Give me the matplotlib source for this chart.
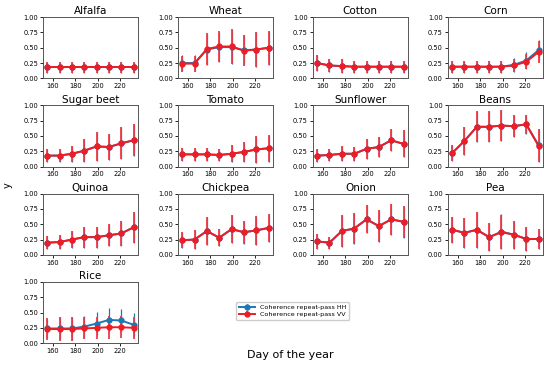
import matplotlib
matplotlib.use('Agg')
import matplotlib.pyplot as plt

# day of the year for each acquisition
days = [155, 166, 177, 188, 199, 210, 221, 232]

crops = ["Alfalfa", "Wheat", "Cotton", "Corn", "Sugar beet", "Tomato", "Sunflower",
         "Beans", "Quinoa", "Chickpea", "Onion", "Pea", "Rice"]

# mean coherence, VV
vv_mean = {
    "Alfalfa":    [0.18, 0.18, 0.18, 0.18, 0.18, 0.18, 0.18, 0.18],
    "Wheat":      [0.24, 0.24, 0.48, 0.52, 0.52, 0.45, 0.47, 0.50],
    "Cotton":     [0.25, 0.21, 0.20, 0.19, 0.19, 0.19, 0.19, 0.19],
    "Corn":       [0.19, 0.19, 0.19, 0.19, 0.19, 0.21, 0.27, 0.43],
    "Sugar beet": [0.18, 0.18, 0.21, 0.26, 0.33, 0.32, 0.38, 0.43],
    "Tomato":     [0.20, 0.20, 0.20, 0.19, 0.21, 0.24, 0.28, 0.30],
    "Sunflower":  [0.18, 0.19, 0.21, 0.21, 0.29, 0.32, 0.43, 0.37],
    "Beans":      [0.22, 0.42, 0.65, 0.65, 0.67, 0.66, 0.69, 0.34],
    "Quinoa":     [0.20, 0.21, 0.25, 0.29, 0.29, 0.32, 0.35, 0.45],
    "Chickpea":   [0.24, 0.25, 0.39, 0.28, 0.42, 0.37, 0.40, 0.44],
    "Onion":      [0.22, 0.20, 0.39, 0.43, 0.58, 0.47, 0.58, 0.54],
    "Pea":        [0.41, 0.36, 0.41, 0.29, 0.37, 0.33, 0.26, 0.26],
    "Rice":       [0.23, 0.23, 0.23, 0.24, 0.25, 0.26, 0.26, 0.25],
}
# standard deviation, VV
vv_std = {
    "Alfalfa":    [0.09, 0.09, 0.09, 0.09, 0.09, 0.09, 0.09, 0.09],
    "Wheat":      [0.13, 0.13, 0.26, 0.25, 0.28, 0.25, 0.28, 0.28],
    "Cotton":     [0.13, 0.11, 0.11, 0.10, 0.10, 0.10, 0.10, 0.10],
    "Corn":       [0.10, 0.10, 0.10, 0.10, 0.10, 0.10, 0.12, 0.18],
    "Sugar beet": [0.10, 0.10, 0.13, 0.19, 0.23, 0.21, 0.26, 0.26],
    "Tomato":     [0.10, 0.10, 0.10, 0.10, 0.14, 0.17, 0.22, 0.22],
    "Sunflower":  [0.10, 0.10, 0.12, 0.11, 0.16, 0.16, 0.18, 0.22],
    "Beans":      [0.13, 0.23, 0.25, 0.25, 0.25, 0.18, 0.16, 0.27],
    "Quinoa":     [0.11, 0.12, 0.14, 0.17, 0.17, 0.18, 0.21, 0.25],
    "Chickpea":   [0.13, 0.15, 0.23, 0.14, 0.23, 0.19, 0.24, 0.23],
    "Onion":      [0.12, 0.10, 0.26, 0.26, 0.23, 0.26, 0.25, 0.26],
    "Pea":        [0.21, 0.24, 0.29, 0.23, 0.28, 0.23, 0.20, 0.17],
    "Rice":       [0.18, 0.19, 0.20, 0.18, 0.18, 0.19, 0.18, 0.18],
}
# mean coherence, HH
hh_mean = {
    "Alfalfa":    [0.18, 0.18, 0.18, 0.18, 0.18, 0.18, 0.18, 0.18],
    "Wheat":      [0.25, 0.25, 0.47, 0.51, 0.51, 0.46, 0.47, 0.50],
    "Cotton":     [0.25, 0.21, 0.20, 0.19, 0.19, 0.19, 0.19, 0.19],
    "Corn":       [0.19, 0.19, 0.19, 0.19, 0.19, 0.22, 0.29, 0.46],
    "Sugar beet": [0.18, 0.18, 0.21, 0.26, 0.33, 0.32, 0.38, 0.43],
    "Tomato":     [0.20, 0.20, 0.20, 0.19, 0.21, 0.24, 0.28, 0.30],
    "Sunflower":  [0.18, 0.19, 0.21, 0.21, 0.29, 0.32, 0.43, 0.37],
    "Beans":      [0.22, 0.42, 0.65, 0.65, 0.67, 0.66, 0.69, 0.35],
    "Quinoa":     [0.20, 0.21, 0.25, 0.29, 0.29, 0.32, 0.35, 0.45],
    "Chickpea":   [0.24, 0.25, 0.39, 0.28, 0.42, 0.37, 0.40, 0.44],
    "Onion":      [0.22, 0.20, 0.39, 0.43, 0.58, 0.47, 0.58, 0.54],
    "Pea":        [0.41, 0.36, 0.41, 0.29, 0.38, 0.33, 0.26, 0.26],
    "Rice":       [0.24, 0.24, 0.24, 0.27, 0.32, 0.38, 0.37, 0.30],
}
hh_std = {
    "Alfalfa":    [0.09, 0.09, 0.09, 0.09, 0.09, 0.09, 0.09, 0.09],
    "Wheat":      [0.13, 0.13, 0.26, 0.25, 0.28, 0.25, 0.28, 0.28],
    "Cotton":     [0.13, 0.11, 0.11, 0.10, 0.10, 0.10, 0.10, 0.10],
    "Corn":       [0.10, 0.10, 0.10, 0.10, 0.10, 0.11, 0.14, 0.17],
    "Sugar beet": [0.10, 0.10, 0.13, 0.19, 0.23, 0.21, 0.26, 0.26],
    "Tomato":     [0.10, 0.10, 0.10, 0.10, 0.14, 0.17, 0.22, 0.22],
    "Sunflower":  [0.10, 0.10, 0.12, 0.11, 0.16, 0.16, 0.18, 0.22],
    "Beans":      [0.13, 0.23, 0.25, 0.25, 0.25, 0.18, 0.16, 0.27],
    "Quinoa":     [0.11, 0.12, 0.14, 0.17, 0.17, 0.18, 0.21, 0.25],
    "Chickpea":   [0.13, 0.15, 0.23, 0.14, 0.23, 0.19, 0.24, 0.23],
    "Onion":      [0.12, 0.10, 0.26, 0.26, 0.23, 0.26, 0.25, 0.26],
    "Pea":        [0.21, 0.24, 0.29, 0.23, 0.28, 0.23, 0.20, 0.17],
    "Rice":       [0.16, 0.18, 0.19, 0.18, 0.19, 0.19, 0.18, 0.19],
}

blue = '#1f77b4'
red = '#ee1c25'

fig, axes = plt.subplots(4, 4, figsize=(5.5, 3.71), dpi=100)
fig.subplots_adjust(left=0.078, right=0.987, top=0.954, bottom=0.075,
                    wspace=0.42, hspace=0.44)

for i, ax in enumerate(axes.flat):
    if i >= len(crops):
        ax.axis('off')
        continue
    name = crops[i]
    h_hh = ax.errorbar(days, hh_mean[name], yerr=hh_std[name], fmt='-o', color=blue,
                       ms=3.5, lw=1.4, elinewidth=0.9, ecolor=blue)
    h_vv = ax.errorbar(days, vv_mean[name], yerr=vv_std[name], fmt='-o', color=red,
                       ms=3.5, lw=1.4, elinewidth=1.3, ecolor='#f03a42')
    ax.set_title(name, fontsize=7.5, pad=2)
    ax.set_ylim(0, 1)
    ax.set_yticks([0, 0.25, 0.5, 0.75, 1.0])
    ax.set_yticklabels(['0.00', '0.25', '0.50', '0.75', '1.00'])
    ax.set_xticks([160, 180, 200, 220])
    ax.tick_params(labelsize=4.8, length=2, pad=1.5, width=0.6)
    for sp in ax.spines.values():
        sp.set_linewidth(0.7)
        sp.set_color('#555555')

fig.legend([h_hh, h_vv], ['Coherence repeat-pass HH', 'Coherence repeat-pass VV'],
           loc='center', bbox_to_anchor=(0.532, 0.162), fontsize=4.6,
           handlelength=2.5, borderpad=0.4, labelspacing=0.3, framealpha=1)
fig.text(0.527, 0.043, 'Day of the year', ha='center', va='center', fontsize=8)
fig.text(0.014, 0.5, 'y', ha='center', va='center', rotation=90, fontsize=7)

plt.savefig('out.png', dpi=100)
